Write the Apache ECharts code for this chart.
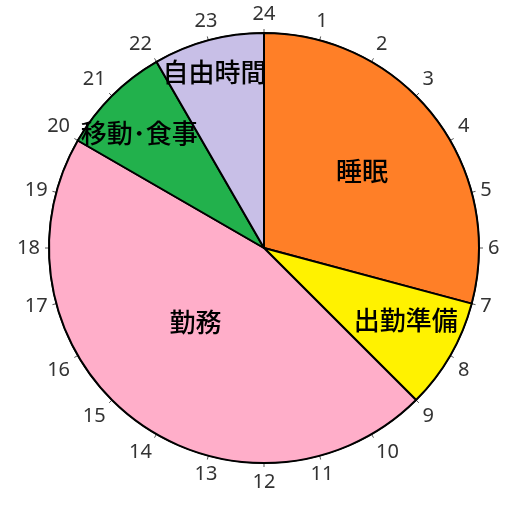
<!DOCTYPE html>
<html lang="ja">
<head>
    <meta charset="UTF-8">
    <title>一日の時間</title>
    <script src="https://cdn.jsdelivr.net/npm/echarts@6/dist/echarts.min.js"></script>
</head>
<body style="margin:0">
<div id="main" style="width: 523px;height:506px;"></div>

<script type="text/javascript">
    // 一日の予定（時間）
    var names = ['睡眠', '出勤準備', '勤務', '移動･食事', '自由時間']
    var hours = [7, 2, 11, 2, 2]
    var colors = ['#FF7F27', '#FFF200', '#FFAEC9', '#22B14C', '#C8BFE7']

    // ラベルの位置 [時刻, 半径の割合]
    var labelPos = [[3.45, 0.58], [7.8, 0.74], [14.85, 0.47], [20.85, 0.79], [22.95, 0.85]]

    var cx = 264, cy = 248, r = 215

    var data = []
    names.forEach((n, i) => {
        data.push({name: n, value: hours[i], itemStyle: {color: colors[i]}})
    })

    var myChart = echarts.init(document.getElementById('main'));

    myChart.setOption({
        animation: false,
        polar: {
            center: [cx, cy],
            radius: r
        },
        angleAxis: {
            type: 'value',
            min: 0,
            max: 24,
            interval: 1,
            startAngle: 90,
            clockwise: true,
            axisLine: {show: true, lineStyle: {color: '#000', width: 1.5}},
            axisTick: {show: true, length: 4, lineStyle: {color: '#555'}},
            axisLabel: {
                margin: 9,
                fontSize: 20,
                fontFamily: 'Noto Sans',
                color: '#333',
                formatter: v => v === 0 ? '24' : v
            },
            splitLine: {show: false}
        },
        radiusAxis: {show: false},
        series: [{
            type: 'pie',
            center: [cx, cy],
            radius: r,
            startAngle: 90,
            clockwise: true,
            z: 3,
            itemStyle: {borderColor: '#000', borderWidth: 2},
            label: {
                position: 'inside',
                formatter: '{b}',
                fontSize: 26,
                fontWeight: 500,
                fontFamily: 'Noto Sans CJK JP',
                color: '#000'
            },
            labelLayout: function (p) {
                var pos = labelPos[p.dataIndex]
                var a = pos[0] / 24 * Math.PI * 2
                return {
                    x: cx + Math.sin(a) * r * pos[1],
                    y: cy - Math.cos(a) * r * pos[1],
                    align: 'center',
                    verticalAlign: 'middle'
                }
            },
            emphasis: {disabled: true},
            data: data
        }]
    });
</script>
</body>
</html>
